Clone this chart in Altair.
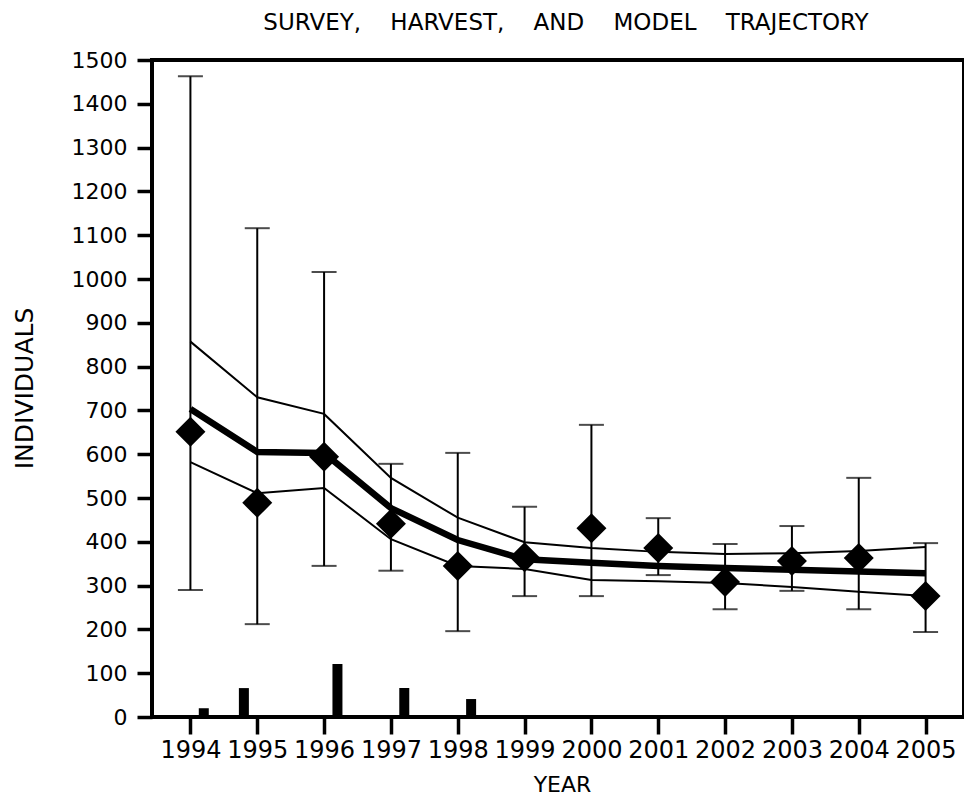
import altair as alt
import pandas as pd

years = list(range(1994, 2006))
survey = [651, 489, 594, 441, 345, 365, 431, 386, 308, 356, 363, 276]
survey_hi = [1463, 1116, 1016, 578, 603, 480, 667, 454, 395, 436, 546, 397]
survey_lo = [290, 212, 345, 334, 196, 276, 276, 324, 246, 288, 246, 194]
model = [703, 605, 603, 477, 404, 360, 352, 345, 340, 336, 332, 328]
model_hi = [857, 730, 692, 546, 455, 399, 386, 377, 372, 374, 379, 388]
model_lo = [582, 511, 523, 406, 345, 338, 313, 310, 306, 297, 286, 276]
harvest_time = [1994.2, 1994.8, 1996.2, 1997.2, 1998.2]
harvest = [20, 66, 121, 66, 41]
y_ticks = list(range(0, 1501, 100))
title_text = "SURVEY,\u00a0\u00a0\u00a0 HARVEST,\u00a0\u00a0\u00a0 AND\u00a0\u00a0\u00a0 MODEL\u00a0\u00a0\u00a0 TRAJECTORY"

FONT = "DejaVu Sans"

df = pd.DataFrame({
    "year": years, "survey": survey, "hi": survey_hi, "lo": survey_lo,
    "model": model, "model_hi": model_hi, "model_lo": model_lo,
})
hdf = pd.DataFrame({"year": harvest_time, "harvest": harvest})
tdf = pd.DataFrame({"t": [title_text]})

x_scale = alt.Scale(domain=[1993.5, 2005.5], nice=False, zero=False)
y_scale = alt.Scale(domain=[0, 1500], nice=False)

x_axis = alt.Axis(values=years, format="d", title="YEAR", grid=False, domain=False,
                  tickSize=17, tickWidth=3.5, tickColor="black",
                  labelFont=FONT, labelFontSize=24, labelColor="black", labelPadding=4,
                  labelFlush=False, labelOverlap=False,
                  titleFont=FONT, titleFontSize=22, titleFontWeight="normal", titleColor="black",
                  titleX=410, titleY=74, titleBaseline="alphabetic", titleAlign="center")
y_axis = alt.Axis(values=y_ticks, format="d", title="INDIVIDUALS", grid=False, domain=False,
                  tickSize=15, tickWidth=3.5, tickColor="black",
                  labelFont=FONT, labelFontSize=22, labelColor="black", labelPadding=10,
                  labelFlush=False, labelOverlap=False,
                  titleFont=FONT, titleFontSize=25, titleFontWeight="normal", titleColor="black",
                  titleX=-128, titleY=328, titleAngle=-90, titleBaseline="middle", titleAlign="center")

base = alt.Chart(df)
X = alt.X("year:Q", scale=x_scale, axis=x_axis)

bars = alt.Chart(hdf).mark_bar(size=10, color="black", orient="vertical").encode(
    x=alt.X("year:Q", scale=x_scale, axis=x_axis),
    y=alt.Y("harvest:Q", scale=y_scale, axis=y_axis),
    y2=alt.datum(0),
)

line_hi = base.mark_line(color="black", strokeWidth=2).encode(
    x=X, y=alt.Y("model_hi:Q", scale=y_scale, axis=y_axis))
line_lo = base.mark_line(color="black", strokeWidth=2).encode(
    x=X, y=alt.Y("model_lo:Q", scale=y_scale, axis=y_axis))
line_model = base.mark_line(color="black", strokeWidth=6.5).encode(
    x=X, y=alt.Y("model:Q", scale=y_scale, axis=y_axis))

err = base.mark_rule(color="black", strokeWidth=2).encode(
    x=X, y=alt.Y("lo:Q", scale=y_scale, axis=y_axis), y2="hi:Q")
cap_hi = base.mark_tick(color="black", orient="horizontal", size=25, thickness=2).encode(
    x=X, y=alt.Y("hi:Q", scale=y_scale, axis=y_axis))
cap_lo = base.mark_tick(color="black", orient="horizontal", size=25, thickness=2).encode(
    x=X, y=alt.Y("lo:Q", scale=y_scale, axis=y_axis))

points = base.mark_point(shape="diamond", filled=True, size=900, color="black", opacity=1).encode(
    x=X, y=alt.Y("survey:Q", scale=y_scale, axis=y_axis))

title = alt.Chart(tdf).mark_text(font=FONT, fontSize=23, color="black", align="center",
                                 baseline="alphabetic").encode(
    text="t:N", x=alt.value(414), y=alt.value(-30.5))

chart = alt.layer(bars, err, cap_hi, cap_lo, line_hi, line_lo, line_model, points, title).properties(
    width=812, height=657,
    autosize=alt.AutoSizeParams(type="none"),
    padding={"left": 144, "top": 52, "right": 0, "bottom": 80},
).configure(background="white", view=alt.ViewConfig(stroke="black", strokeWidth=4))

chart.save("out.html", embed_options={"renderer": "svg", "actions": False})
